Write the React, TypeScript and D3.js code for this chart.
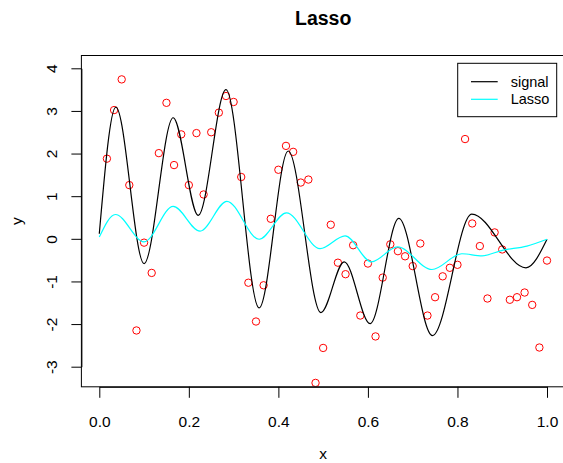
import React, { useEffect, useRef } from "react";
import * as d3 from "d3";

// observed points (red circles)
const obsX = [0.017, 0.033, 0.05, 0.067, 0.083, 0.1, 0.117, 0.133, 0.15, 0.167, 0.183, 0.2, 0.217, 0.233, 0.25, 0.267, 0.283, 0.3, 0.317, 0.333,
  0.35, 0.367, 0.383, 0.4, 0.417, 0.433, 0.45, 0.467, 0.483, 0.5, 0.517, 0.533, 0.55, 0.567, 0.583, 0.6, 0.617, 0.633, 0.65, 0.667,
  0.683, 0.7, 0.717, 0.733, 0.75, 0.767, 0.783, 0.8, 0.817, 0.833, 0.85, 0.867, 0.883, 0.9, 0.917, 0.933, 0.95, 0.967, 0.983, 1.0];
const obsY = [1.88, 3.02, 3.74, 1.26, -2.15, -0.09, -0.8, 2.01, 3.19, 1.73, 2.45, 1.26, 2.48, 1.04, 2.5, 2.96, 3.35, 3.21, 1.45, -1.03,
  -1.94, -1.09, 0.47, 1.62, 2.18, 2.04, 1.32, 1.39, -3.38, -2.56, 0.33, -0.56, -0.83, -0.15, -1.8, -0.58, -2.29, -0.91, -0.13, -0.29,
  -0.41, -0.64, -0.11, -1.8, -1.37, -0.88, -0.68, -0.61, 2.34, 0.36, -0.17, -1.4, 0.15, -0.25, -1.43, -1.37, -1.26, -1.55, -2.55, -0.51];

// true signal (black line), read at its turning points
const signalX = [0, 0.037, 0.1, 0.165, 0.221, 0.283, 0.357, 0.422, 0.495, 0.547, 0.605, 0.669, 0.744, 0.832, 0.953, 1.0];
const signalY = [0.12, 3.09, -0.58, 2.84, 0.55, 3.5, -1.62, 2.06, -1.73, -0.54, -1.99, 0.48, -2.27, 0.58, -0.68, -0.01];

// lasso fit (cyan line)
const lassoX = [0, 0.036, 0.1, 0.165, 0.225, 0.285, 0.357, 0.418, 0.493, 0.549, 0.608, 0.666, 0.743, 0.81, 0.855, 0.9, 0.955, 1.0];
const lassoY = [0.04, 0.57, -0.07, 0.76, 0.18, 0.88, -0.01, 0.61, -0.23, 0.07, -0.54, -0.19, -0.72, -0.35, -0.4, -0.27, -0.17, -0.01];

const xTicks = [0, 0.2, 0.4, 0.6, 0.8, 1.0];
const yTicks = [-3, -2, -1, 0, 1, 2, 3, 4];
const legendNames = ["signal", "Lasso"];
const legendColors = ["black", "cyan"];

const W = 563, H = 463;
const font = "'Liberation Sans', Arial, Helvetica, sans-serif";

export default function App() {
  const xAxisRef = useRef<SVGGElement>(null);
  const yAxisRef = useRef<SVGGElement>(null);

  const x = d3.scaleLinear().domain([0, 1]).range([99.3, 547]);
  const y = d3.scaleLinear().domain([-3, 4]).range([366.7, 68.3]);
  // plot region (R style, 4% padding)
  const left = x(-0.04), right = x(1.04);
  const top = 55.5, bottom = 386.8;

  const signal = signalX.map((v, i) => [v, signalY[i]] as [number, number]);
  const lasso = lassoX.map((v, i) => [v, lassoY[i]] as [number, number]);
  const line = d3.line<[number, number]>().x(d => x(d[0])).y(d => y(d[1])).curve(d3.curveMonotoneX);

  useEffect(() => {
    const gx = d3.select(xAxisRef.current!);
    gx.call(d3.axisBottom(x).tickValues(xTicks).tickFormat(d3.format(".1f")).tickSize(11).tickSizeOuter(0));
    gx.selectAll("text").attr("y", 40).attr("dy", 0).attr("fill", "black")
      .style("font-size", "15.5px").style("font-family", font);
    gx.selectAll("line, path").attr("stroke", "black");

    const gy = d3.select(yAxisRef.current!);
    gy.call(d3.axisLeft(y).tickValues(yTicks).tickFormat(d3.format("d")).tickSize(10).tickSizeOuter(0));
    gy.selectAll("text")
      .attr("x", 0).attr("dy", 0)
      .attr("text-anchor", "middle")
      .attr("transform", `translate(${56.5 - left},0) rotate(-90)`)
      .attr("fill", "black")
      .style("font-size", "15.5px").style("font-family", font)
      .text((d: any) => String(d));
    gy.selectAll("line, path").attr("stroke", "black");
  }, []);

  return (
    <svg width={W} height={H} style={{ position: "absolute", left: 0, top: 0, background: "white" }}>
      <defs>
        <clipPath id="plot">
          <rect x={left} y={top} width={right - left} height={bottom - top} />
        </clipPath>
      </defs>
      <text x={(left + right) / 2} y={25} textAnchor="middle" fontFamily={font} fontWeight="bold" fontSize={19.5}>Lasso</text>
      <text x={(left + right) / 2} y={459} textAnchor="middle" fontFamily={font} fontSize={15.5}>x</text>
      <text transform={`translate(21.5,${(top + bottom) / 2}) rotate(-90)`} textAnchor="middle" fontFamily={font} fontSize={15.5}>y</text>

      <g clipPath="url(#plot)">
        {obsX.map((v, i) => (
          <circle key={i} cx={x(v)} cy={y(obsY[i])} r={3.7} fill="none" stroke="red" strokeWidth={1} />
        ))}
        <path d={line(signal)!} fill="none" stroke="black" strokeWidth={1.2} />
        <path d={line(lasso)!} fill="none" stroke="cyan" strokeWidth={1.2} />
      </g>

      <rect x={left} y={top} width={right - left} height={bottom - top} fill="none" stroke="black" strokeWidth={1} />
      <g ref={xAxisRef} transform={`translate(0,${bottom})`} />
      <g ref={yAxisRef} transform={`translate(${left},0)`} />

      <g>
        <rect x={457.7} y={63.3} width={99} height={53.4} fill="white" stroke="black" strokeWidth={1} />
        {legendNames.map((name, i) => (
          <g key={name}>
            <line x1={471} x2={497.7} y1={81.7 + i * 17.6} y2={81.7 + i * 17.6} stroke={legendColors[i]} strokeWidth={1.2} />
            <text x={510.7} y={86.7 + i * 17.6} fontFamily={font} fontSize={14.5}>{name}</text>
          </g>
        ))}
      </g>
    </svg>
  );
}
